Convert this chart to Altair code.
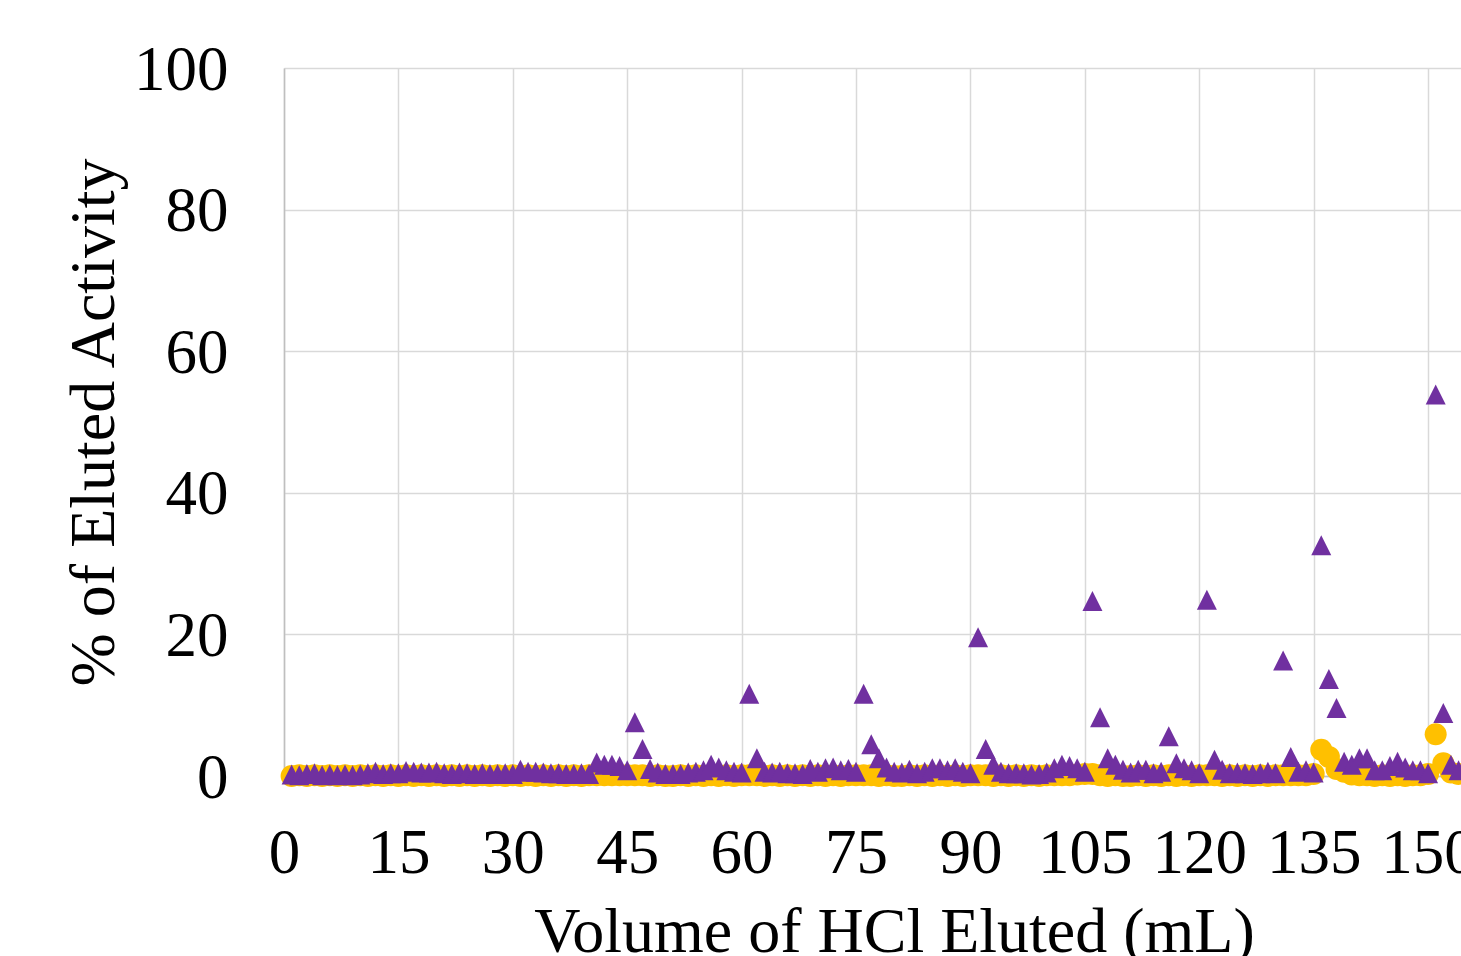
import altair as alt
import pandas as pd

# Fraction volume (mL)
x_vals = list(range(1, 155))

# % of eluted activity, purple triangles
purple = [
    0.2, 0.1, 0.3, 0.4, 0.1, 0.2, 0.1, 0.2, 0.1, 0.2,      # 1-10
    0.4, 0.6, 0.3, 0.4, 0.4, 0.7, 0.6, 0.5, 0.5, 0.6,      # 11-20
    0.4, 0.3, 0.5, 0.4, 0.3, 0.4, 0.3, 0.3, 0.4, 0.3,      # 21-30
    0.9, 0.6, 0.6, 0.5, 0.4, 0.4, 0.3, 0.3, 0.4, 0.3,      # 31-40
    1.9, 1.6, 1.6, 1.4, 0.8, 7.6, 3.8, 1.0, 0.5, 0.3,      # 41-50
    0.3, 0.3, 0.5, 0.6, 0.8, 1.6, 1.2, 0.8, 0.6, 0.5,      # 51-60
    11.6, 2.5, 0.6, 0.5, 0.6, 0.4, 0.4, 0.3, 1.0, 0.6,     # 61-70
    1.1, 1.2, 0.8, 1.0, 0.6, 11.6, 4.5, 2.5, 1.2, 0.6,     # 71-80
    0.5, 0.9, 0.4, 0.6, 1.1, 1.1, 0.8, 1.1, 0.6, 0.4,      # 81-90
    19.6, 3.8, 1.6, 0.6, 0.4, 0.4, 0.4, 0.2, 0.3, 0.5,     # 91-100
    1.1, 1.6, 1.4, 1.1, 0.6, 24.7, 8.3, 2.5, 1.6, 0.9,     # 101-110
    0.5, 0.9, 0.9, 0.4, 0.6, 5.6, 1.8, 1.1, 0.8, 0.4,      # 111-120
    24.9, 2.3, 0.9, 0.4, 0.5, 0.4, 0.3, 0.4, 0.6, 0.4,     # 121-130
    16.3, 2.7, 0.6, 0.8, 0.5, 32.6, 13.7, 9.6, 2.0, 1.6,   # 131-140
    2.5, 2.5, 0.8, 0.8, 1.4, 2.0, 1.2, 0.8, 0.8, 0.4,      # 141-150
    53.9, 8.9, 1.6, 0.8,                                   # 151-154
]

# % of eluted activity, yellow circles
yellow = [
    0.0, 0.1, 0.0, 0.1, 0.0, 0.1, 0.0, 0.1, 0.0, 0.1,
    0.0, 0.1, 0.0, 0.1, 0.0, 0.1, 0.0, 0.1, 0.0, 0.1,
    0.0, 0.1, 0.0, 0.1, 0.0, 0.1, 0.0, 0.1, 0.0, 0.1,
    0.0, 0.1, 0.0, 0.1, 0.0, 0.1, 0.0, 0.1, 0.0, 0.1,
    0.1, 0.1, 0.1, 0.1, 0.1, 0.1, 0.1, 0.0, 0.1, 0.0,
    0.0, 0.1, 0.0, 0.1, 0.0, 0.1, 0.0, 0.1, 0.0, 0.1,
    0.1, 0.1, 0.0, 0.1, 0.0, 0.1, 0.0, 0.1, 0.0, 0.1,
    0.0, 0.1, 0.0, 0.1, 0.1, 0.1, 0.1, 0.0, 0.1, 0.0,
    0.0, 0.1, 0.0, 0.1, 0.0, 0.1, 0.0, 0.1, 0.0, 0.1,
    0.1, 0.1, 0.0, 0.1, 0.0, 0.1, 0.0, 0.1, 0.0, 0.1,
    0.1, 0.1, 0.1, 0.2, 0.3, 0.3, 0.1, 0.0, 0.1, 0.0,
    0.0, 0.1, 0.0, 0.1, 0.0, 0.1, 0.0, 0.1, 0.0, 0.1,
    0.1, 0.1, 0.0, 0.1, 0.0, 0.1, 0.0, 0.1, 0.0, 0.1,
    0.1, 0.1, 0.1, 0.1, 0.3, 3.7, 2.7, 1.0, 0.6, 0.2,
    0.1, 0.1, 0.0, 0.1, 0.0, 0.1, 0.0, 0.1, 0.1, 0.3,
    5.9, 1.8, 0.5, 0.3,
]

x_ticks = list(range(0, 151, 15))
y_ticks = list(range(0, 101, 20))

df = pd.DataFrame({"x": x_vals, "purple": purple, "yellow": yellow})

FONT = "Liberation Serif"
GRID = "#d9d9d9"

xscale = alt.Scale(domain=[0, 154.32], nice=False, zero=False)
yscale = alt.Scale(domain=[0, 100], nice=False)

xaxis = alt.Axis(
    values=x_ticks, title="Volume of HCl Eluted (mL)", grid=True,
    gridColor=GRID, gridWidth=1.5, domainColor="#bfbfbf", domainWidth=1.5,
    ticks=False, tickSize=0, labelFont=FONT, labelFontSize=63, labelColor="black",
    labelBaseline="alphabetic", labelPadding=96, labelOverlap=False,
    labelFlush=False, labelBound=False,
    titleFont=FONT, titleFontSize=64, titleFontWeight="normal", titleColor="black",
    titleX=610, titleY=175, titleBaseline="alphabetic", titleAlign="center",
)
yaxis = alt.Axis(
    values=y_ticks, title="% of Eluted Activity", grid=True,
    gridColor=GRID, gridWidth=1.5, domainColor="#bfbfbf", domainWidth=1.5,
    ticks=False, tickSize=0, labelFont=FONT, labelFontSize=63, labelColor="black",
    labelBaseline="alphabetic", labelOffset=21, labelPadding=56, labelAlign="right",
    labelOverlap=False, labelFlush=False, labelBound=False,
    titleFont=FONT, titleFontSize=64, titleFontWeight="normal", titleColor="black",
    titleAngle=270, titleX=-171, titleY=354, titleBaseline="alphabetic", titleAlign="center",
)

circles = alt.Chart(df).mark_point(
    shape="circle", filled=True, size=484, color="#FFC000", opacity=1, strokeWidth=0
).encode(
    x=alt.X("x:Q", scale=xscale, axis=xaxis),
    y=alt.Y("yellow:Q", scale=yscale, axis=yaxis),
)

triangles = alt.Chart(df).mark_point(
    shape="M0,-1L1,1L-1,1Z", filled=True, size=400, color="#7030A0", opacity=1, strokeWidth=0
).encode(
    x=alt.X("x:Q", scale=xscale, axis=xaxis),
    y=alt.Y("purple:Q", scale=yscale, axis=yaxis),
)

chart = alt.layer(circles, triangles).properties(
    width=1177, height=708,
    autosize=alt.AutoSizeParams(type="none"),
    padding={"left": 284, "top": 68, "right": 0, "bottom": 180},
    background="white",
).configure_view(stroke=None)

chart.save("out.html", embed_options={"renderer": "svg", "actions": False})
